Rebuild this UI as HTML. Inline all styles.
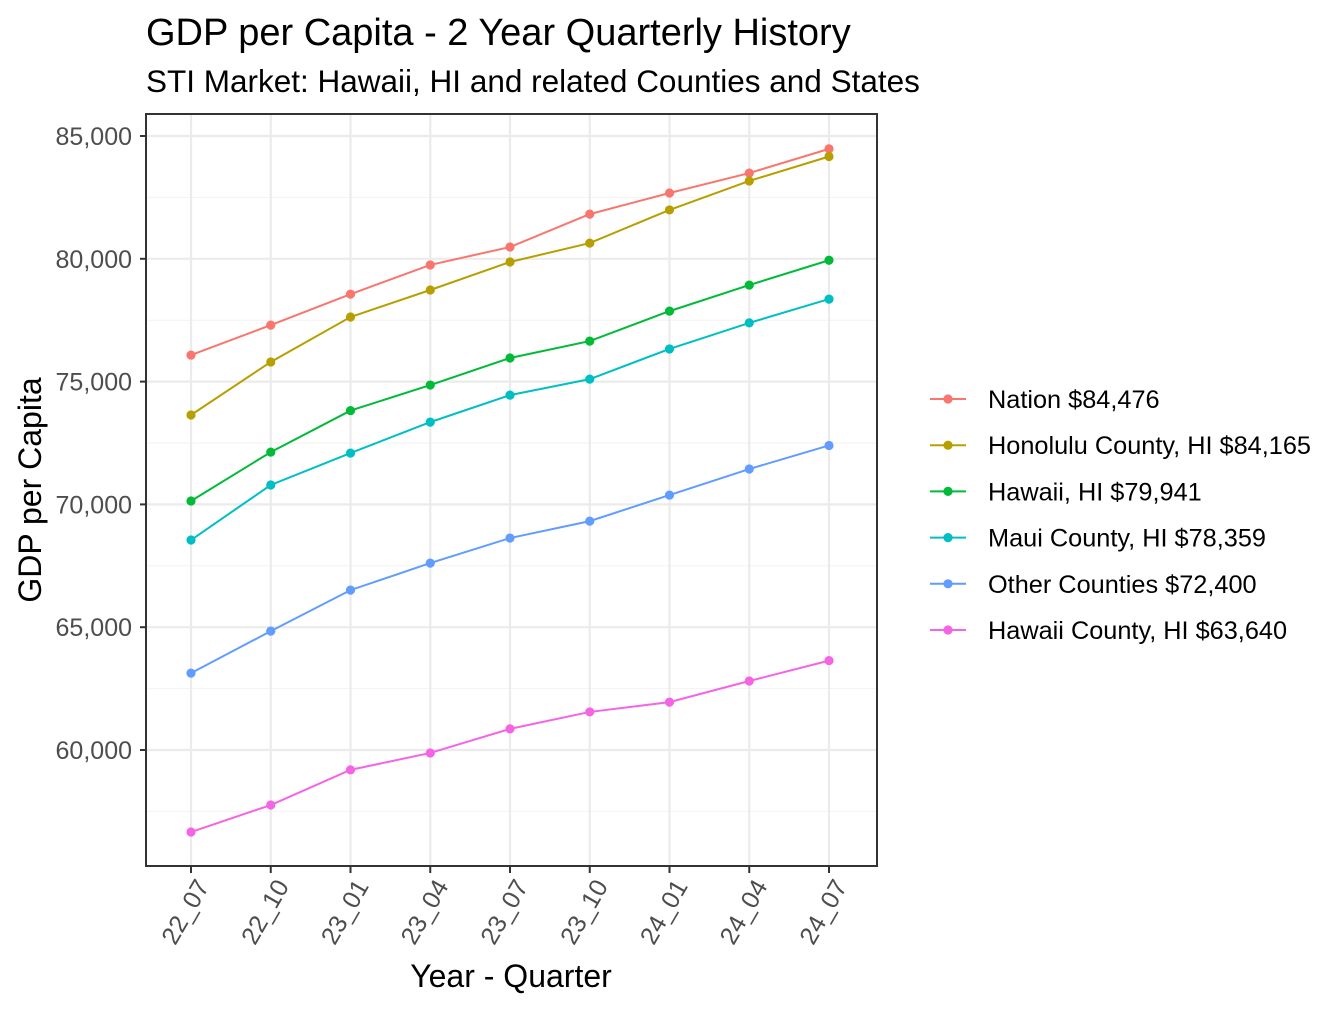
<!DOCTYPE html>
<html><head><meta charset="utf-8"><style>
body{margin:0;background:#fff;}
svg text{font-family:"Liberation Sans",Arial,sans-serif;}
</style></head><body>
<svg id="chart" width="1344" height="1008" xmlns="http://www.w3.org/2000/svg">
<text x="146" y="45" font-size="38">GDP per Capita - 2 Year Quarterly History</text>
<text x="146" y="92" font-size="31.5">STI Market: Hawaii, HI and related Counties and States</text>
<text transform="translate(41,490) rotate(-90)" text-anchor="middle" font-size="32">GDP per Capita</text>
<text x="511" y="987" text-anchor="middle" font-size="32">Year - Quarter</text>
<g id="grid"></g><g id="marks"></g><g id="axes"></g><g id="legend"></g>
</svg>
<script>
const categories=["22_07","22_10","23_01","23_04","23_07","23_10","24_01","24_04","24_07"];
const seriesNames=["Nation $84,476","Honolulu County, HI $84,165","Hawaii, HI $79,941","Maui County, HI $78,359","Other Counties $72,400","Hawaii County, HI $63,640"];
const nation=[76080,77300,78560,79750,80480,81820,82680,83490,84476];
const honolulu=[73640,75800,77630,78730,79870,80640,81990,83170,84165];
const hawaiiState=[70140,72130,73820,74860,75960,76650,77870,78930,79941];
const maui=[68550,70790,72090,73350,74450,75100,76330,77390,78359];
const other=[63130,64840,66510,67610,68630,69320,70380,71440,72400];
const hawaiiCounty=[56660,57760,59190,59880,60860,61550,61950,62810,63640];
const yTicks=[60000,65000,70000,75000,80000,85000];
const series=[nation,honolulu,hawaiiState,maui,other,hawaiiCounty];
const colors=["#F8766D","#B79F00","#00BA38","#00BFC4","#619CFF","#F564E3"];
const NS="http://www.w3.org/2000/svg";
const L=146,R=877,T=114,B=866;
const x=i=>191+i*(829-191)/(categories.length-1);
const y=v=>136+(85000-v)*(750-136)/25000;
function mk(tag,attrs,parent){const e=document.createElementNS(NS,tag);for(const k in attrs)e.setAttribute(k,attrs[k]);parent.appendChild(e);return e;}
const grid=document.getElementById('grid'),marks=document.getElementById('marks'),axes=document.getElementById('axes'),legend=document.getElementById('legend');
for(let i=0;i<yTicks.length;i++){const v=yTicks[i]-2500;if(y(v)<B&&y(v)>T){const g=mk('line',{x1:L,x2:R,y1:y(v),y2:y(v),stroke:'#f2f2f2','stroke-width':1},grid);

}}
yTicks.forEach(v=>{const g=mk('line',{x1:L,x2:R,y1:y(v),y2:y(v),stroke:'#ebebeb','stroke-width':2.2},grid);


const t=mk('line',{x1:L-6,x2:L,y1:y(v),y2:y(v),stroke:'#333','stroke-width':2},axes);


const lb=mk('text',{x:L-14,y:y(v)+9,'text-anchor':'end','font-size':25,fill:'#4d4d4d'},axes);lb.textContent=v.toLocaleString('en-US');

});
categories.forEach((c,i)=>{const g=mk('line',{x1:x(i),x2:x(i),y1:T,y2:B,stroke:'#ebebeb','stroke-width':2.2},grid);


const t=mk('line',{x1:x(i),x2:x(i),y1:B,y2:B+7,stroke:'#333','stroke-width':2},axes);


const lb=mk('text',{x:0,y:0,'text-anchor':'end','font-size':25,fill:'#4d4d4d',transform:`translate(${x(i)+19},${B+20}) rotate(-60)`},axes);lb.textContent=c;

});
const frame=mk('rect',{x:L,y:T,width:R-L,height:B-T,fill:'none',stroke:'#333','stroke-width':2},axes);


series.forEach((s,k)=>{const pl=mk('polyline',{points:s.map((v,i)=>x(i)+','+y(v)).join(' '),fill:'none',stroke:colors[k],'stroke-width':2},marks);


s.forEach((v,i)=>{const p=mk('circle',{cx:x(i),cy:y(v),r:4.6,fill:colors[k]},marks);

});
const ly=399+k*46.2;
const ll=mk('line',{x1:930,x2:966,y1:ly,y2:ly,stroke:colors[k],'stroke-width':2},legend);


const lc=mk('circle',{cx:948,cy:ly,r:4.6,fill:colors[k]},legend);


const lt=mk('text',{x:988,y:ly+9,'font-size':25.3,fill:'#000'},legend);lt.textContent=seriesNames[k];

});
</script>
</body></html>
